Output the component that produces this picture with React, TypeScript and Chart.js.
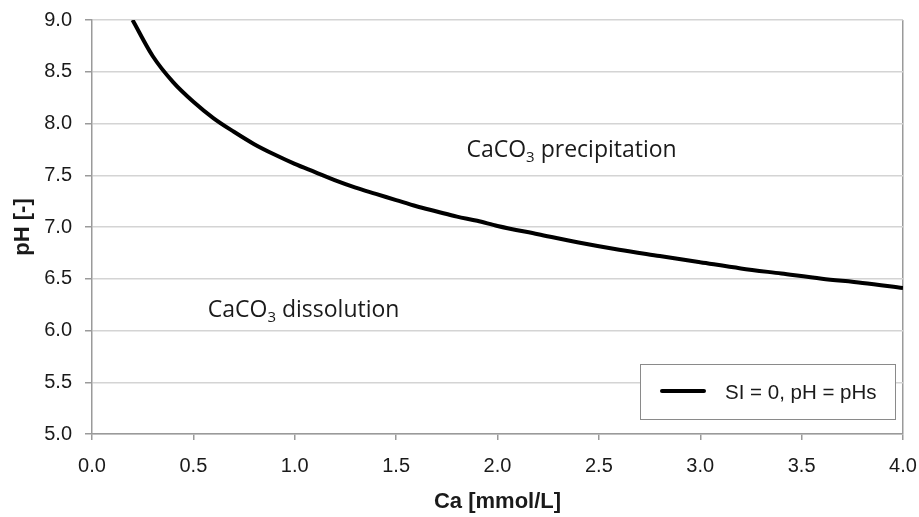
import React, { useEffect, useRef } from "react";
import { Chart, registerables } from "chart.js";

Chart.register(...registerables);

const caValues = [0.2, 0.3, 0.4, 0.5, 0.6, 0.7, 0.8, 0.9, 1.0, 1.1, 1.2, 1.3, 1.4, 1.5, 1.6, 1.7, 1.8, 1.9, 2.0, 2.2, 2.4, 2.6, 2.8, 3.0, 3.2, 3.4, 3.6, 3.8, 4.0];
const phsValues = [9.0, 8.65, 8.4, 8.21, 8.05, 7.92, 7.8, 7.7, 7.61, 7.53, 7.45, 7.38, 7.32, 7.26, 7.2, 7.15, 7.1, 7.06, 7.01, 6.93, 6.85, 6.78, 6.72, 6.66, 6.6, 6.55, 6.5, 6.46, 6.41];
const seriesLabel = "SI = 0, pH = pHs";
const xTitle = "Ca [mmol/L]";
const yTitle = "pH [-]";
const annotations = [
  { main: "CaCO", sub: "3", rest: " precipitation", x: 1.847, y: 7.675 },
  { main: "CaCO", sub: "3", rest: " dissolution", x: 0.571, y: 6.128 },
];

const AXIS_GREY = "#9a9a9a";
const GRID_GREY = "#d4d4d4";
const TEXT = "#1a1a1a";
const FAMILY = "'Liberation Sans', Arial, sans-serif";

const overlayPlugin = {
  id: "overlay",
  afterDatasetsDraw(chart: any) {
    const { ctx, chartArea, scales } = chart;
    ctx.save();
    ctx.fillStyle = TEXT;
    ctx.textBaseline = "alphabetic";
    ctx.textAlign = "left";
    for (const a of annotations) {
      let px = scales.x.getPixelForValue(a.x);
      const py = scales.y.getPixelForValue(a.y);
      ctx.font = "23px 'Open Sans'";
      ctx.fillText(a.main, px, py);
      px += ctx.measureText(a.main).width;
      ctx.font = "15px 'Open Sans'";
      ctx.fillText(a.sub, px, py + 5);
      px += ctx.measureText(a.sub).width;
      ctx.font = "23px 'Open Sans'";
      ctx.fillText(a.rest, px, py);
    }
    const bx = chartArea.right - 263;
    const by = chartArea.bottom - 70;
    const bw = 255;
    const bh = 55;
    ctx.fillStyle = "#ffffff";
    ctx.fillRect(bx, by, bw, bh);
    ctx.strokeStyle = "#8a8a8a";
    ctx.lineWidth = 1;
    ctx.strokeRect(bx + 0.5, by + 0.5, bw, bh);
    ctx.strokeStyle = "#000000";
    ctx.lineWidth = 4;
    ctx.lineCap = "round";
    ctx.beginPath();
    ctx.moveTo(bx + 22, by + 27);
    ctx.lineTo(bx + 64, by + 27);
    ctx.stroke();
    ctx.fillStyle = TEXT;
    ctx.font = "20.5px " + FAMILY;
    ctx.fillText(seriesLabel, bx + 85, by + 35);
    ctx.restore();
  },
};

export default function App() {
  const ref = useRef<HTMLCanvasElement | null>(null);
  useEffect(() => {
    if (!ref.current) return;
    const data = caValues.map((x, i) => ({ x, y: phsValues[i] }));
    const chart = new Chart(ref.current, {
      type: "line",
      data: {
        datasets: [
          {
            label: seriesLabel,
            data,
            borderColor: "#000000",
            borderWidth: 4,
            pointRadius: 0,
            tension: 0.4,
            cubicInterpolationMode: "monotone",
            fill: false,
          },
        ],
      },
      options: {
        animation: false,
        responsive: false,
        maintainAspectRatio: false,
        layout: { padding: { top: 20, right: 16, left: 0, bottom: 0 } },
        plugins: { legend: { display: false }, tooltip: { enabled: false } },
        scales: {
          x: {
            type: "linear",
            min: 0,
            max: 4,
            afterFit: (s: any) => { s.height = 83; s.paddingLeft = 0; s.paddingRight = 0; },
            ticks: {
              stepSize: 0.5,
              callback: (v: any) => Number(v).toFixed(1),
              color: TEXT,
              font: { size: 20, family: FAMILY },
              padding: 14,
              maxRotation: 0,
            },
            grid: {
              color: (c: any) => (c.tick && c.tick.value === 4 ? AXIS_GREY : "transparent"),
              tickColor: AXIS_GREY,
              tickLength: 6,
              lineWidth: 1.5,
            },
            border: { color: AXIS_GREY, width: 1.5 },
            title: {
              display: true,
              text: xTitle,
              color: TEXT,
              font: { size: 22, weight: "bold", family: FAMILY },
              padding: { top: 0, bottom: 2 },
            },
          },
          y: {
            type: "linear",
            min: 5,
            max: 9,
            afterFit: (s: any) => { s.width = 92; s.paddingTop = 0; s.paddingBottom = 0; },
            ticks: {
              stepSize: 0.5,
              callback: (v: any) => Number(v).toFixed(1),
              color: TEXT,
              font: { size: 20, family: FAMILY },
              padding: 13,
            },
            grid: {
              color: GRID_GREY,
              tickColor: AXIS_GREY,
              tickLength: 7,
              lineWidth: 1.5,
            },
            border: { color: AXIS_GREY, width: 1.5 },
            title: {
              display: true,
              text: yTitle,
              color: TEXT,
              font: { size: 22, weight: "bold", family: FAMILY },
              padding: { top: 10, bottom: 0 },
            },
          },
        },
      },
      plugins: [overlayPlugin],
    });
    return () => chart.destroy();
  }, []);
  return (
    <div style={{ position: "fixed", left: 0, top: 0, width: 919, height: 517, background: "#fff" }}>
      <canvas ref={ref} width={919} height={517} style={{ width: 919, height: 517 }} />
    </div>
  );
}
